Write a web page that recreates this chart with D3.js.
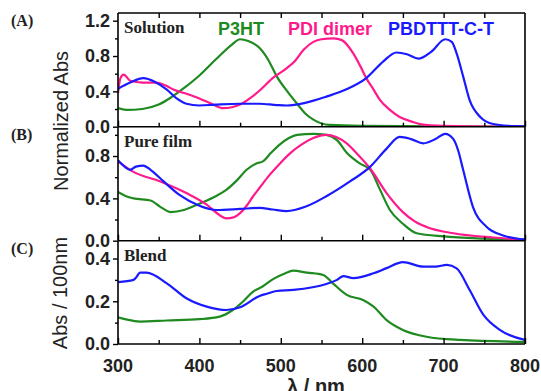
<!DOCTYPE html>
<html>
<head>
<meta charset="utf-8">
<script src="https://cdn.jsdelivr.net/npm/d3@7"></script>
<style>
  body { margin: 0; background: #fff; }
  svg { display: block; }
</style>
</head>
<body>
<div id="chart"></div>
<script>
// data: [wavelength nm, absorbance]
const solP3HT = [[300,0.21],[310,0.19],[330,0.2],[350,0.25],[365,0.33],[380,0.43],[400,0.58],[420,0.76],[440,0.93],[450,0.99],[460,0.97],[474,0.89],[485,0.75],[495,0.57],[508,0.4],[520,0.26],[530,0.15],[540,0.08],[560,0.02],[600,0.01],[700,0.005],[800,0]];
const solPDI = [[300,0.38],[303,0.55],[307,0.59],[315,0.52],[330,0.5],[347,0.5],[360,0.46],[368,0.42],[385,0.37],[400,0.32],[415,0.26],[429,0.21],[440,0.22],[450,0.25],[462,0.32],[474,0.41],[490,0.55],[507,0.66],[518,0.75],[528,0.87],[540,0.96],[550,0.99],[565,1.0],[575,0.98],[589,0.83],[598,0.68],[605,0.55],[614,0.42],[622,0.3],[634,0.19],[646,0.11],[660,0.06],[671,0.03],[700,0.01],[800,0]];
const solPBD = [[300,0.43],[315,0.5],[331,0.55],[345,0.51],[360,0.42],[372,0.32],[384,0.26],[400,0.24],[420,0.25],[450,0.26],[474,0.26],[495,0.245],[507,0.24],[530,0.27],[556,0.34],[580,0.42],[605,0.55],[626,0.74],[642,0.84],[655,0.82],[669,0.77],[685,0.85],[702,0.99],[710,0.96],[716,0.83],[724,0.57],[732,0.3],[745,0.11],[761,0.03],[780,0.01],[800,0.005]];

const filmP3HT = [[300,0.46],[310,0.42],[319,0.4],[340,0.38],[352,0.32],[365,0.27],[381,0.29],[400,0.35],[420,0.42],[433,0.48],[446,0.57],[458,0.67],[470,0.73],[478,0.75],[488,0.83],[499,0.91],[510,0.97],[520,1.0],[540,1.01],[556,1.0],[569,0.95],[581,0.83],[597,0.73],[610,0.67],[622,0.48],[634,0.29],[650,0.16],[667,0.07],[700,0.04],[750,0.02],[800,0.01]];
const filmPDI = [[300,0.75],[319,0.65],[352,0.56],[384,0.45],[409,0.34],[425,0.24],[433,0.21],[442,0.22],[450,0.26],[458,0.33],[466,0.42],[474,0.5],[485,0.61],[499,0.73],[512,0.83],[524,0.9],[540,0.97],[556,1.0],[568,0.98],[581,0.92],[595,0.81],[610,0.68],[630,0.45],[650,0.27],[665,0.18],[679,0.13],[712,0.07],[761,0.03],[800,0.01]];
const filmPBD = [[300,0.76],[308,0.7],[315,0.67],[322,0.7],[331,0.71],[340,0.67],[356,0.56],[376,0.43],[400,0.33],[421,0.29],[450,0.3],[474,0.31],[490,0.295],[507,0.28],[530,0.32],[556,0.42],[585,0.56],[610,0.7],[630,0.87],[646,0.98],[660,0.96],[675,0.92],[690,0.96],[702,1.01],[712,0.96],[718,0.85],[724,0.67],[736,0.32],[753,0.13],[773,0.05],[800,0.01]];

const blendP3HT = [[300,0.125],[310,0.115],[327,0.105],[360,0.11],[400,0.116],[425,0.128],[441,0.159],[454,0.2],[466,0.245],[478,0.27],[491,0.305],[505,0.33],[515,0.343],[532,0.334],[552,0.323],[564,0.284],[581,0.23],[601,0.206],[614,0.175],[630,0.112],[650,0.066],[679,0.034],[720,0.019],[800,0.01]];
const blendPBD = [[300,0.29],[319,0.3],[323,0.315],[327,0.334],[335,0.334],[360,0.284],[384,0.214],[409,0.175],[433,0.159],[450,0.172],[474,0.225],[483,0.235],[495,0.248],[515,0.253],[556,0.281],[569,0.3],[577,0.318],[589,0.308],[614,0.331],[630,0.355],[650,0.383],[675,0.362],[690,0.362],[704,0.37],[716,0.354],[732,0.253],[749,0.136],[769,0.066],[800,0.019]];

const xTicks = [300, 400, 500, 600, 700, 800];
const legendNames = ["P3HT", "PDI dimer", "PBDTTT-C-T"];
const panelTags = ["(A)", "(B)", "(C)"];
const panelNames = ["Solution", "Pure film", "Blend"];

const colors = { p3ht: "#1f8a1f", pdi: "#ff1a8c", pbd: "#1a1aff" };

const width = 541, height = 391;
const svg = d3.select("#chart").append("svg")
  .attr("width", width).attr("height", height);

const x = d3.scaleLinear().domain([300, 800]).range([118, 525]);

const panels = [
  { top: 13, bottom: 126.7, max: 1.287, major: [0, 0.4, 0.8, 1.2], minor: [0.2, 0.6, 1.0],
    series: [[solP3HT, colors.p3ht], [solPDI, colors.pdi], [solPBD, colors.pbd]], topTicks: true },
  { top: 126.7, bottom: 240.7, max: 1.077, major: [0, 0.4, 0.8], minor: [0.2, 0.6, 1.0],
    series: [[filmP3HT, colors.p3ht], [filmPDI, colors.pdi], [filmPBD, colors.pbd]] },
  { top: 241, bottom: 344, max: 0.482, major: [0, 0.2, 0.4], minor: [0.1, 0.3],
    series: [[blendP3HT, colors.p3ht], [blendPBD, colors.pbd]], xLabels: true }
];

const tickFont = "'Liberation Sans', Arial, sans-serif";
const serif = "'Liberation Serif', 'Times New Roman', serif";

panels.forEach((p, i) => {
  const y = d3.scaleLinear().domain([0, p.max]).range([p.bottom, p.top]);
  const g = svg.append("g");

  const clipId = "clip" + i;
  svg.append("clipPath").attr("id", clipId)
    .append("rect").attr("x", x(300)).attr("y", p.top)
    .attr("width", x(800) - x(300)).attr("height", p.bottom - p.top);

  const line = d3.line()
    .x(d => x(d[0])).y(d => y(d[1]))
    .curve(d3.curveMonotoneX);

  g.append("g").attr("clip-path", `url(#${clipId})`)
    .selectAll("path").data(p.series).enter()
    .append("path")
    .attr("d", d => line(d[0]))
    .attr("fill", "none")
    .attr("stroke", d => d[1])
    .attr("stroke-width", 2.2)
    .attr("stroke-linejoin", "round");

  // left axis
  const yAxis = d3.axisLeft(y).tickValues(p.major).tickSize(5).tickFormat(d3.format(".1f"));
  const ya = g.append("g").attr("transform", `translate(${x(300)},0)`).call(yAxis);
  ya.select(".domain").remove();
  ya.selectAll("line").attr("stroke", "#000").attr("stroke-width", 1.4);
  ya.selectAll("text").attr("font-family", tickFont).attr("font-weight", "bold")
    .attr("font-size", 18).attr("fill", "#222").attr("x", -8);
  g.append("g").attr("transform", `translate(${x(300)},0)`)
    .call(d3.axisLeft(y).tickValues(p.minor).tickSize(3).tickFormat(""))
    .call(a => a.select(".domain").remove())
    .selectAll("line").attr("stroke", "#000").attr("stroke-width", 1.4);

  // bottom axis ticks pointing inward
  const xa = g.append("g").attr("transform", `translate(0,${p.bottom})`)
    .call(d3.axisTop(x).tickValues(xTicks).tickSize(6).tickFormat(""));
  xa.select(".domain").remove();
  xa.selectAll("line").attr("stroke", "#000").attr("stroke-width", 1.4);
  g.append("g").attr("transform", `translate(0,${p.bottom})`)
    .call(d3.axisTop(x).tickValues([350, 450, 550, 650, 750]).tickSize(4).tickFormat(""))
    .call(a => a.select(".domain").remove())
    .selectAll("line").attr("stroke", "#000").attr("stroke-width", 1.4);

  if (p.topTicks) {
    g.append("g").attr("transform", `translate(0,${p.top})`)
      .call(d3.axisBottom(x).tickValues(d3.range(350, 800, 50)).tickSize(5).tickFormat(""))
      .call(a => a.select(".domain").remove())
      .selectAll("line").attr("stroke", "#000").attr("stroke-width", 1.4);
    g.append("line").attr("x1", x(300)).attr("x2", x(800))
      .attr("y1", p.top).attr("y2", p.top).attr("stroke", "#000").attr("stroke-width", 1.4);
  }

  if (p.xLabels) {
    g.selectAll(".xl").data(xTicks).enter().append("text")
      .attr("x", d => x(d)).attr("y", p.bottom + 28)
      .attr("text-anchor", "middle")
      .attr("font-family", tickFont).attr("font-weight", "bold")
      .attr("font-size", 18).attr("fill", "#222")
      .text(d => d);
  }

  // frame: left, right, bottom
  g.append("line").attr("x1", x(300)).attr("x2", x(300)).attr("y1", p.top).attr("y2", p.bottom)
    .attr("stroke", "#000").attr("stroke-width", 1.6);
  g.append("line").attr("x1", x(800)).attr("x2", x(800)).attr("y1", p.top).attr("y2", p.bottom)
    .attr("stroke", "#000").attr("stroke-width", 1.6);
  g.append("line").attr("x1", x(300)).attr("x2", x(800)).attr("y1", p.bottom).attr("y2", p.bottom)
    .attr("stroke", "#000").attr("stroke-width", 1.6);

  // panel tag and name
  g.append("text").attr("x", 11).attr("y", p.top + 13)
    .attr("font-family", serif).attr("font-weight", "bold").attr("font-size", 16)
    .attr("fill", "#222").text(panelTags[i]);
  g.append("text").attr("x", 124).attr("y", p.top + 20)
    .attr("font-family", serif).attr("font-weight", "bold").attr("font-size", 17)
    .attr("fill", "#222").text(panelNames[i]);
});

// legend texts in panel A
const legendX = [218, 288, 388];
const legendColors = [colors.p3ht, colors.pdi, colors.pbd];
svg.selectAll(".leg").data(legendNames).enter().append("text")
  .attr("x", (d, i) => legendX[i]).attr("y", 35)
  .attr("font-family", tickFont).attr("font-weight", "bold").attr("font-size", 18)
  .attr("fill", (d, i) => legendColors[i])
  .text(d => d);

// axis titles
svg.append("text")
  .attr("transform", "translate(68,121) rotate(-90)")
  .attr("text-anchor", "middle")
  .attr("font-family", tickFont).attr("font-size", 20).attr("fill", "#222")
  .text("Normalized Abs");
svg.append("text")
  .attr("transform", "translate(67,293) rotate(-90)")
  .attr("text-anchor", "middle")
  .attr("font-family", tickFont).attr("font-size", 20).attr("fill", "#222")
  .text("Abs / 100nm");
svg.append("text")
  .attr("x", 316).attr("y", 393)
  .attr("text-anchor", "middle")
  .attr("font-family", tickFont).attr("font-weight", "bold").attr("font-size", 20).attr("fill", "#222")
  .text("λ  / nm");
</script>
</body>
</html>
